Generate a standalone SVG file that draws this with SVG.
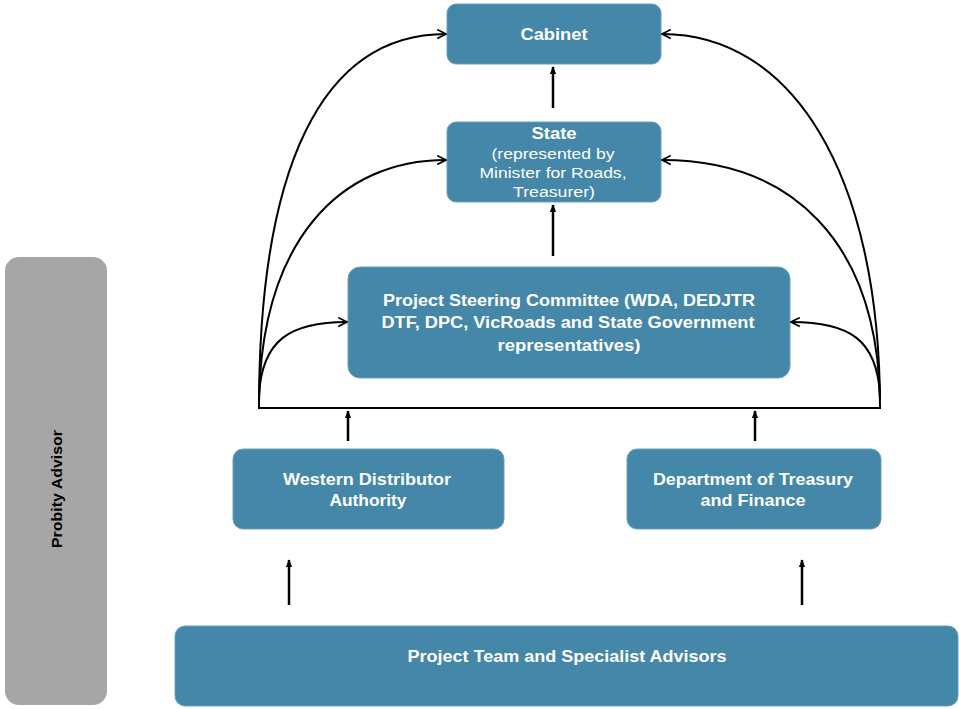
<svg xmlns="http://www.w3.org/2000/svg" width="959" height="709" viewBox="0 0 959 709">
<style>
.box{fill:#4487a8;stroke:#6a9fbb;stroke-width:1}
.t{font-family:"Liberation Sans",Arial,sans-serif;font-size:16px;font-weight:bold;fill:#ffffff;text-anchor:middle}
.s{font-family:"Liberation Sans",Arial,sans-serif;font-size:14px;fill:#ffffff;text-anchor:middle}
.c{fill:none;stroke:#000;stroke-width:2}
.a{fill:none;stroke:#000;stroke-width:2.5}
</style>
<defs>
<marker id="open" viewBox="0 0 10 10" refX="9" refY="5" markerWidth="11" markerHeight="11" markerUnits="userSpaceOnUse" orient="auto">
<polyline points="1,1 9,5 1,9" fill="none" stroke="#000" stroke-width="1.5"/>
</marker>
<marker id="solid" viewBox="0 0 10 10" refX="9" refY="5" markerWidth="8" markerHeight="8" markerUnits="userSpaceOnUse" orient="auto">
<path d="M0,1 L10,5 L0,9 Z" fill="#000"/>
</marker>
</defs>
<rect width="959" height="709" fill="#ffffff"/>
<g id="probity">
<rect x="5" y="257" width="102" height="448" rx="14" fill="#a6a6a6"/>
<text transform="translate(62,489) rotate(-90)" font-family="Liberation Sans,Arial,sans-serif" font-size="15" font-weight="bold" fill="#000" text-anchor="middle" textLength="118" lengthAdjust="spacingAndGlyphs">Probity Advisor</text>
</g>
<g id="cabinet">
<rect class="box" x="447" y="4" width="214" height="60" rx="9"/>
<text class="t" x="554" y="40" textLength="67" lengthAdjust="spacingAndGlyphs">Cabinet</text>
</g>
<g id="state">
<rect class="box" x="447" y="122" width="214" height="80" rx="9"/>
<text class="t" x="554" y="139" textLength="45" lengthAdjust="spacingAndGlyphs">State</text>
<text class="s" x="553" y="159" textLength="123" lengthAdjust="spacingAndGlyphs">(represented by</text>
<text class="s" x="553" y="178" textLength="147" lengthAdjust="spacingAndGlyphs">Minister for Roads,</text>
<text class="s" x="554" y="197" textLength="82" lengthAdjust="spacingAndGlyphs">Treasurer)</text>
</g>
<g id="psc">
<rect class="box" x="348" y="267" width="442" height="111" rx="12"/>
<text class="t" x="569" y="306" textLength="372" lengthAdjust="spacingAndGlyphs">Project Steering Committee (WDA, DEDJTR</text>
<text class="t" x="568" y="328" textLength="373" lengthAdjust="spacingAndGlyphs">DTF, DPC, VicRoads and State Government</text>
<text class="t" x="569" y="351" textLength="143" lengthAdjust="spacingAndGlyphs">representatives)</text>
</g>
<g id="wda">
<rect class="box" x="233" y="449" width="271" height="80" rx="10"/>
<text class="t" x="367" y="485" textLength="168" lengthAdjust="spacingAndGlyphs">Western Distributor</text>
<text class="t" x="368" y="506" textLength="77" lengthAdjust="spacingAndGlyphs">Authority</text>
</g>
<g id="dtf">
<rect class="box" x="627" y="449" width="254" height="80" rx="10"/>
<text class="t" x="753" y="485" textLength="200" lengthAdjust="spacingAndGlyphs">Department of Treasury</text>
<text class="t" x="753" y="506" textLength="105" lengthAdjust="spacingAndGlyphs">and Finance</text>
</g>
<g id="team">
<rect class="box" x="175" y="626" width="783" height="80" rx="10"/>
<text class="t" x="567" y="662" textLength="319" lengthAdjust="spacingAndGlyphs">Project Team and Specialist Advisors</text>
</g>
<g id="connectors">
<line class="c" x1="258" y1="408" x2="881" y2="408"/>
<path class="c" d="M259,408 C259,170 320,34 446,34" marker-end="url(#open)"/>
<path class="c" d="M259,400 C262,240 340,160 446,160" marker-end="url(#open)"/>
<path class="c" d="M259,395 C262,340 290,322 347,322" marker-end="url(#open)"/>
<path class="c" d="M880,408 C880,170 790,34 662,34" marker-end="url(#open)"/>
<path class="c" d="M880,400 C877,240 790,160 662,160" marker-end="url(#open)"/>
<path class="c" d="M880,395 C877,340 850,322 791,322" marker-end="url(#open)"/>
<line class="a" x1="553" y1="108" x2="553" y2="67" marker-end="url(#solid)"/>
<line class="a" x1="553" y1="256" x2="553" y2="205" marker-end="url(#solid)"/>
<line class="a" x1="348" y1="441" x2="348" y2="411" marker-end="url(#solid)"/>
<line class="a" x1="755" y1="441" x2="755" y2="411" marker-end="url(#solid)"/>
<line class="a" x1="289" y1="605" x2="289" y2="560" marker-end="url(#solid)"/>
<line class="a" x1="802" y1="605" x2="802" y2="560" marker-end="url(#solid)"/>
</g>
</svg>
